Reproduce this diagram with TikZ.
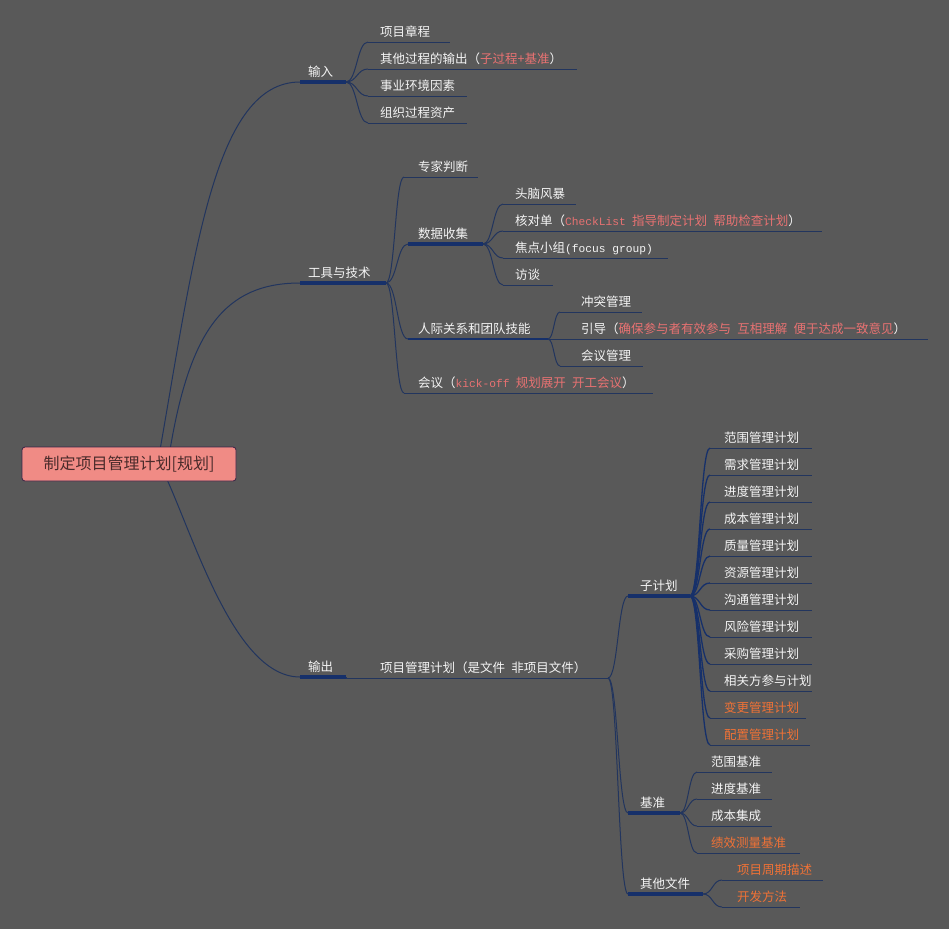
\documentclass[tikz,border=0pt]{standalone}
\usepackage{fontspec}
\setmainfont{Noto Sans CJK SC}
\newfontfamily\monof[Scale=0.9]{Liberation Mono}
\usetikzlibrary{calc}
\definecolor{bgc}{HTML}{595959}
\definecolor{fg}{HTML}{F4F4F4}
\definecolor{hl}{HTML}{E87272}
\definecolor{org}{HTML}{F07236}
\definecolor{lnc}{HTML}{22355E}
\definecolor{lnd}{HTML}{16306A}
\definecolor{rootfill}{HTML}{F08B85}
\definecolor{rootdraw}{HTML}{3A2447}
\definecolor{roottext}{HTML}{4A2B2B}
\newcommand\gapsp{\hspace{0.5em}}
\tikzset{
  txt/.style={anchor=base west, inner sep=0pt, text=fg, font=\fontsize{12.5}{14}\selectfont},
  ul/.style={draw=lnc, line width=1pt},
  ulthick/.style={draw=lnd, line width=3.2pt},
  ulmid/.style={draw=lnd, line width=1.6pt},
  cn/.style={draw=lnc, line width=1pt},
  cnthick/.style={draw=lnd, line width=1.3pt},
  rootbox/.style={draw=rootdraw, fill=rootfill, line width=0.8pt, rounded corners=3pt,
    minimum width=214pt, minimum height=34pt, inner sep=0pt, text=roottext,
    font=\fontsize{16}{18}\selectfont},
}
% \mnode[style]{name}{text x}{underline y}{start x}{end x}{text}
\newcommand\mnode[7][ul]{%
  \coordinate (#2S) at (#5,#4);
  \coordinate (#2E) at (#6,#4);
  \draw[#1] (#2S) -- (#2E);
  \node[txt] (#2) at (#3,#4-6) {#7};}
\newcommand\conn[3][cn]{%
  \draw[#1] (#2) .. controls ($(#2)!0.5!(#2 -| #3)$) and ($(#3)!0.5!(#3 -| #2)$) .. (#3);}
\begin{document}
\begin{tikzpicture}[x=1pt,y=-1pt]
\fill[bgc] (0,0) rectangle (949,929);
\useasboundingbox (0,0) rectangle (949,929);

% root anchors for the main connectors
\coordinate (rA) at (160,450);
\coordinate (rB) at (170,450);
\coordinate (rC) at (165,475);

% level 1
\mnode[ulthick]{in}{308}{82}{300}{346}{输入}
\mnode[ulthick]{tool}{308}{283}{300}{386}{工具与技术}
\mnode[ulthick]{out}{308}{677}{300}{346}{输出}

\draw[cn] (rA) .. controls (195,250) and (215,82) .. (inS);
\draw[cn] (rB) .. controls (190,330) and (225,283) .. (toolS);
\draw[cn] (rC) .. controls (195,540) and (235,677) .. (outS);

\node[rootbox] (root) at (129,464) {制定项目管理计划[规划]};

% inputs
\mnode{a1}{380}{42}{368}{450}{项目章程}
\mnode{a2}{380}{69}{368}{577}{其他过程的输出（\textcolor{hl}{子过程+基准}）}
\mnode{a3}{380}{96}{368}{467}{事业环境因素}
\mnode{a4}{380}{123}{368}{467}{组织过程资产}
\foreach \c in {a1,a2,a3,a4} {\conn{inE}{\c S}}

% tools
\mnode{b1}{418}{177}{404}{478}{专家判断}
\mnode[ulthick]{b2}{418}{244}{408}{483}{数据收集}
\mnode[ulmid]{b3}{418}{339}{408}{548}{人际关系和团队技能}
\mnode{b4}{418}{393}{404}{653}{会议（\textcolor{hl}{{\monof kick-off}\gapsp 规划展开\gapsp 开工会议}）}
\foreach \c in {b1,b2,b3,b4} {\conn{toolE}{\c S}}

\mnode{c1}{515}{204}{503}{576}{头脑风暴}
\mnode{c2}{515}{231}{503}{822}{核对单（\textcolor{hl}{{\monof CheckList}\gapsp 指导制定计划\gapsp 帮助检查计划}）}
\mnode{c3}{515}{258}{503}{668}{焦点小组{\monof (focus group)}}
\mnode{c4}{515}{285}{503}{553}{访谈}
\foreach \c in {c1,c2,c3,c4} {\conn{b2E}{\c S}}

\mnode{d1}{581}{312}{560}{642}{冲突管理}
\mnode{d2}{581}{339}{560}{928}{引导（\textcolor{hl}{确保参与者有效参与\gapsp 互相理解\gapsp 便于达成一致意见}）}
\mnode{d3}{581}{366}{560}{643}{会议管理}
\foreach \c in {d1,d2,d3} {\conn{b3E}{\c S}}

% outputs
\mnode{e}{380}{678}{346}{608}{项目管理计划（是文件\gapsp 非项目文件）}
\draw[cn] (outE) -- (eS);

\mnode[ulthick]{f1}{640}{596}{628}{690}{子计划}
\mnode[ulthick]{f2}{640}{813}{628}{680}{基准}
\mnode[ulthick]{f3}{640}{894}{628}{703}{其他文件}
\foreach \c in {f1,f2,f3} {\conn{eE}{\c S}}

\foreach \t [count=\k from 0] in {范围管理计划,需求管理计划,进度管理计划,成本管理计划,质量管理计划,资源管理计划,沟通管理计划,风险管理计划,采购管理计划,相关方参与计划} {
  \mnode{g\k}{724}{448+27*\k}{710}{812}{\t}
  \conn[cnthick]{f1E}{g\k S}
}
\mnode{g10}{724}{718}{710}{806}{\textcolor{org}{变更管理计划}}
\mnode{g11}{724}{745}{710}{810}{\textcolor{org}{配置管理计划}}
\conn[cnthick]{f1E}{g10S}
\conn[cnthick]{f1E}{g11S}

\mnode{h1}{711}{772}{697}{772}{范围基准}
\mnode{h2}{711}{799}{697}{772}{进度基准}
\mnode{h3}{711}{826}{697}{772}{成本集成}
\mnode{h4}{711}{853}{697}{800}{\textcolor{org}{绩效测量基准}}
\foreach \c in {h1,h2,h3,h4} {\conn{f2E}{\c S}}

\mnode{i1}{737}{880}{722}{823}{\textcolor{org}{项目周期描述}}
\mnode{i2}{737}{907}{722}{800}{\textcolor{org}{开发方法}}
\foreach \c in {i1,i2} {\conn{f3E}{\c S}}
\end{tikzpicture}
\end{document}
